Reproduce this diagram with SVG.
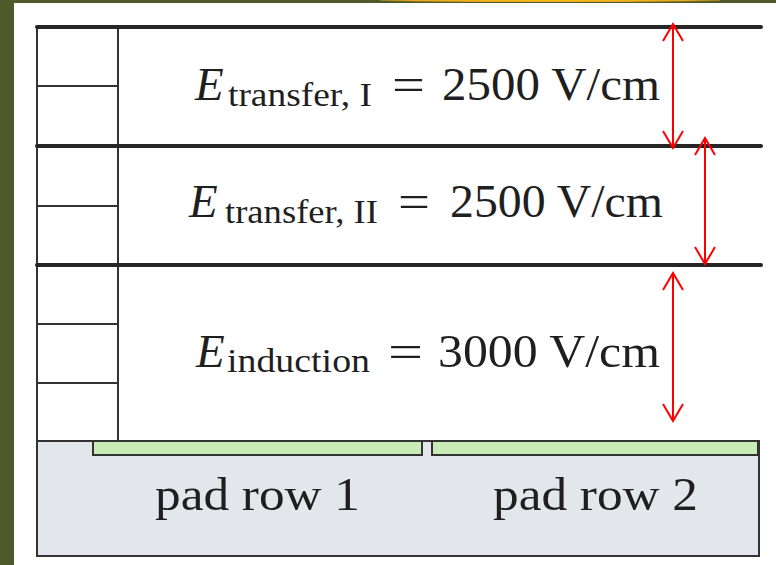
<svg xmlns="http://www.w3.org/2000/svg" width="776" height="565" viewBox="0 0 776 565">
  <defs>
    <radialGradient id="glow" cx="0.5" cy="0" r="0.6">
      <stop offset="0" stop-color="#f6c21a"/>
      <stop offset="0.7" stop-color="#e9a81c"/>
      <stop offset="1" stop-color="#4f5a2b"/>
    </radialGradient>
    <marker id="ah" viewBox="-19 -12 21 24" refX="0" refY="0" markerWidth="21" markerHeight="24" markerUnits="userSpaceOnUse" orient="auto-start-reverse">
      <path d="M-17,-10 L0,0 L-17,10" fill="none" stroke="#f00" stroke-width="2"/>
    </marker>
  </defs>
  <style>
    .thick { stroke: #262626; stroke-width: 4; stroke-linecap: round; }
    .thin { stroke: #333; stroke-width: 2; }
    .eq { fill: #1f1f1f; }
    .main { font-size: 47px; }
    .sub { font-size: 34px; }
    .ital { font-style: italic; }
    .pad { font-size: 46px; fill: #1f1f1f; }
    .arrow { stroke: #f00; stroke-width: 2; fill: none; marker-start: url(#ah); marker-end: url(#ah); }
  </style>

  <!-- background -->
  <rect x="0" y="0" width="776" height="565" fill="#4f5a2b"/>
  <rect x="380" y="0" width="340" height="4" fill="url(#glow)"/>
  <rect x="14" y="3" width="762" height="562" fill="#ffffff"/>

  <!-- field cage / left column -->
  <g id="field-cage">
    <line class="thin" x1="37" y1="27" x2="37" y2="556"/>
    <line class="thin" x1="118" y1="27" x2="118" y2="441"/>
    <line class="thin" x1="37" y1="86" x2="118" y2="86"/>
    <line class="thin" x1="37" y1="206" x2="118" y2="206"/>
    <line class="thin" x1="37" y1="324" x2="118" y2="324"/>
    <line class="thin" x1="37" y1="383" x2="118" y2="383"/>
  </g>

  <!-- electrodes -->
  <g id="gem-1">
    <line class="thick" x1="37" y1="27" x2="761" y2="27"/>
  </g>
  <g id="gem-2">
    <line class="thick" x1="37" y1="146" x2="761" y2="146"/>
  </g>
  <g id="gem-3">
    <line class="thick" x1="37" y1="265" x2="761" y2="265"/>
  </g>

  <!-- readout -->
  <g id="readout">
    <rect x="37" y="441" width="722" height="115" fill="#e3e7ec" stroke="#333" stroke-width="2"/>
  </g>
  <g id="pad-row-1" font-family="'Liberation Serif', 'Times New Roman', serif">
    <rect x="93" y="441" width="329" height="14" fill="#c9ebb5" stroke="#333" stroke-width="2"/>
    <text class="pad" x="155" y="510" textLength="205" lengthAdjust="spacingAndGlyphs">pad row 1</text>
  </g>
  <g id="pad-row-2" font-family="'Liberation Serif', 'Times New Roman', serif">
    <rect x="432" y="441" width="326" height="14" fill="#c9ebb5" stroke="#333" stroke-width="2"/>
    <text class="pad" x="493" y="510" textLength="205" lengthAdjust="spacingAndGlyphs">pad row 2</text>
  </g>

  <!-- field labels -->
  <g id="transfer-1" font-family="'Liberation Serif', 'Times New Roman', serif">
    <text class="eq main ital" x="195" y="100">E</text>
    <text class="eq sub" x="228" y="106" textLength="144" lengthAdjust="spacingAndGlyphs">transfer, I</text>
    <text class="eq main" x="392" y="100" textLength="33" lengthAdjust="spacingAndGlyphs">=</text>
    <text class="eq main" x="442" y="100" textLength="218" lengthAdjust="spacingAndGlyphs">2500 V/cm</text>
  </g>
  <g id="transfer-2" font-family="'Liberation Serif', 'Times New Roman', serif">
    <text class="eq main ital" x="189" y="217">E</text>
    <text class="eq sub" x="225" y="223" textLength="153" lengthAdjust="spacingAndGlyphs">transfer, II</text>
    <text class="eq main" x="398" y="217" textLength="32" lengthAdjust="spacingAndGlyphs">=</text>
    <text class="eq main" x="450" y="217" textLength="213" lengthAdjust="spacingAndGlyphs">2500 V/cm</text>
  </g>
  <g id="induction" font-family="'Liberation Serif', 'Times New Roman', serif">
    <text class="eq main ital" x="196" y="367">E</text>
    <text class="eq sub" x="227" y="372" textLength="143" lengthAdjust="spacingAndGlyphs">induction</text>
    <text class="eq main" x="388" y="367" textLength="35" lengthAdjust="spacingAndGlyphs">=</text>
    <text class="eq main" x="438" y="367" textLength="222" lengthAdjust="spacingAndGlyphs">3000 V/cm</text>
  </g>

  <!-- gap arrows -->
  <g id="connectors">
    <line class="arrow" x1="673" y1="24" x2="673" y2="148"/>
    <line class="arrow" x1="705" y1="138" x2="705" y2="264"/>
    <line class="arrow" x1="673" y1="273" x2="673" y2="421"/>
  </g>
</svg>
